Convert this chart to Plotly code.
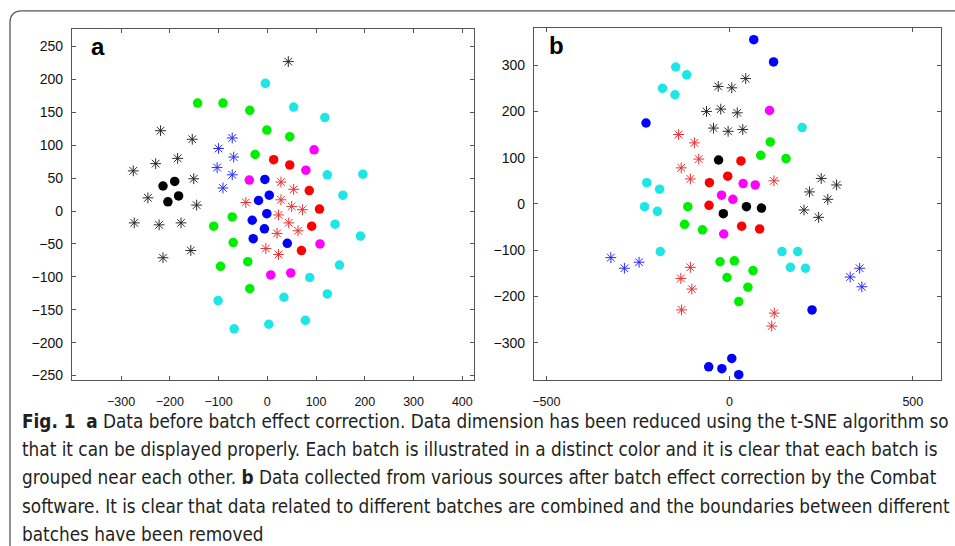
import plotly.graph_objects as go

# ---------------- Panel a (before correction) ----------------
a_black_star_x = [43, -219, -154, -184, -229, -275, -151, -245, -145, -273, -222, -177, -157, -214]
a_black_star_y = [227, 122, 109, 80, 72, 61, 49, 20, 9, -18, -21, -18, -60, -71]
a_black_x = [-214, -190, -182, -204]
a_black_y = [38, 45, 23, 14]
a_blue_star_x = [-72, -100, -69, -103, -72, -91]
a_blue_star_y = [111, 95, 82, 66, 55, 35]
a_green_x = [-143, -91, -36, -1, 46, -25, -110, -72, -70, -96, -40, -36]
a_green_y = [164, 164, 153, 123, 113, 86, -23, -9, -48, -84, -77, -118]
a_cyan_x = [-4, 54, 118, 123, 196, 155, 139, 191, 148, 87, 123, 34, -101, -68, 3, 78]
a_cyan_y = [194, 158, 142, 55, 56, 24, -20, -38, -82, -101, -126, -131, -136, -179, -172, -166]
a_magenta_x = [96, 79, -37, 108, 7, 48]
a_magenta_y = [93, 62, 47, -50, -97, -94]
a_red_x = [13, 46, 86, 107, 91, 70]
a_red_y = [78, 70, 31, 3, -23, -60]
a_blue_x = [-5, -18, 4, -1, -31, -6, -29, 41]
a_blue_y = [48, 16, 24, -4, -14, -27, -42, -49]
a_red_star_x = [28, 54, -44, 28, 50, 72, 23, 44, 63, 20, -3, 23]
a_red_star_y = [44, 33, 13, 17, 7, 2, -6, -18, -30, -34, -57, -66]

# ---------------- Panel b (after Combat correction) ----------------
b_blue_x = [66, 120, -228, 225, -57, -21, 6, 25]
b_blue_y = [355, 307, 175, -229, -352, -356, -334, -369]
b_cyan_x = [-147, -117, -183, -149, 198, -226, -191, -232, -197, -189, 143, 186, 166, 207]
b_cyan_y = [296, 279, 250, 236, 165, 46, 32, -6, -16, -103, -103, -103, -137, -139]
b_green_x = [111, 85, 154, -114, -123, -74, -26, 13, 64, -7, 50, 25]
b_green_y = [134, 105, 98, -6, -44, -56, -125, -123, -144, -159, -180, -211]
b_black_x = [-30, 46, 87, -17]
b_black_y = [95, -6, -9, -21]
b_black_star_x = [44, -31, 6, -63, -24, 21, -44, -4, 36, 250, 292, 218, 268, 203, 243]
b_black_star_y = [271, 254, 251, 200, 205, 197, 164, 157, 161, 55, 41, 26, 10, -13, -29]
b_magenta_x = [109, 37, 70, -22, 9, -16]
b_magenta_y = [202, 44, 41, 19, 10, -65]
b_red_x = [31, -5, -55, -56, 33, 82]
b_red_y = [93, 60, 46, -3, -48, -54]
b_red_star_x = [-139, -96, -84, -132, -107, 121, -107, -133, -103, -131, 122, 115]
b_red_star_y = [150, 132, 97, 78, 54, 50, -137, -161, -184, -229, -236, -264]
b_blue_star_x = [-324, -287, -247, 329, 355, 361]
b_blue_star_y = [-116, -139, -126, -158, -139, -179]

# ticks
a_xticks = [-300, -200, -100, 0, 100, 200, 300, 400]
a_yticks = [-250, -200, -150, -100, -50, 0, 50, 100, 150, 200, 250]
b_xticks = [-500, 0, 500]
b_yticks = [-300, -200, -100, 0, 100, 200, 300]

caption_lines = [
    "<b>Fig. 1</b>  <b>a</b> Data before batch effect correction. Data dimension has been reduced using the t-SNE algorithm so",
    "that it can be displayed properly. Each batch is illustrated in a distinct color and it is clear that each batch is",
    "grouped near each other. <b>b</b> Data collected from various sources after batch effect correction by the Combat",
    "software. It is clear that data related to different batches are combined and the boundaries between different",
    "batches have been removed",
]

W, H = 955, 546
C_BLACK = "#000000"
C_BLUE = "#0000ff"
C_GREEN = "#00ee00"
C_CYAN = "#1ee6e6"
C_MAGENTA = "#ff00ff"
C_RED = "#ff0000"
C_BLUE_STAR = "#2a2aff"
C_RED_STAR = "#e83030"
C_BLACK_STAR = "#2a2a2a"

fig = go.Figure()


def dots(x, y, color, xa, ya):
    fig.add_trace(go.Scatter(x=x, y=y, mode="markers", xaxis=xa, yaxis=ya,
                             marker=dict(symbol="circle", size=9.5, color=color, line=dict(width=0)),
                             showlegend=False, hoverinfo="x+y"))


def stars(x, y, color, xa, ya):
    fig.add_trace(go.Scatter(x=x, y=y, mode="markers", xaxis=xa, yaxis=ya,
                             marker=dict(symbol="asterisk-open", size=9, color=color,
                                         line=dict(width=1, color=color)),
                             showlegend=False, hoverinfo="x+y"))


# panel a
stars(a_black_star_x, a_black_star_y, C_BLACK_STAR, "x", "y")
dots(a_black_x, a_black_y, C_BLACK, "x", "y")
stars(a_blue_star_x, a_blue_star_y, C_BLUE_STAR, "x", "y")
dots(a_green_x, a_green_y, C_GREEN, "x", "y")
dots(a_cyan_x, a_cyan_y, C_CYAN, "x", "y")
dots(a_magenta_x, a_magenta_y, C_MAGENTA, "x", "y")
dots(a_red_x, a_red_y, C_RED, "x", "y")
dots(a_blue_x, a_blue_y, C_BLUE, "x", "y")
stars(a_red_star_x, a_red_star_y, C_RED_STAR, "x", "y")

# panel b
dots(b_blue_x, b_blue_y, C_BLUE, "x2", "y2")
dots(b_cyan_x, b_cyan_y, C_CYAN, "x2", "y2")
dots(b_green_x, b_green_y, C_GREEN, "x2", "y2")
dots(b_black_x, b_black_y, C_BLACK, "x2", "y2")
stars(b_black_star_x, b_black_star_y, C_BLACK_STAR, "x2", "y2")
dots(b_magenta_x, b_magenta_y, C_MAGENTA, "x2", "y2")
dots(b_red_x, b_red_y, C_RED, "x2", "y2")
stars(b_red_star_x, b_red_star_y, C_RED_STAR, "x2", "y2")
stars(b_blue_star_x, b_blue_star_y, C_BLUE_STAR, "x2", "y2")

axis_common = dict(showline=True, linecolor="#555555", linewidth=1, mirror="ticks",
                   ticks="inside", ticklen=4, tickcolor="#555555", tickwidth=1,
                   showgrid=False, zeroline=False, fixedrange=True)
tick_font_x = dict(family="Liberation Sans, Arial, sans-serif", size=12.5, color="#111111")
tick_font_y = dict(family="Liberation Sans, Arial, sans-serif", size=14, color="#111111")


def px_x(p):
    return p / W


def px_y(p):
    return 1 - p / H


fig.update_layout(
    width=W, height=H,
    margin=dict(l=0, r=0, t=0, b=0),
    paper_bgcolor="white", plot_bgcolor="white",
    xaxis=dict(domain=[px_x(70), px_x(473)], range=[-401, 424], tickvals=a_xticks,
               tickfont=tick_font_x, anchor="y", ticklabelstandoff=10, **axis_common),
    yaxis=dict(domain=[px_y(382.3), px_y(29.5)], range=[-257, 276], tickvals=a_yticks,
               tickfont=tick_font_y, anchor="x", ticklabelstandoff=5, **axis_common),
    xaxis2=dict(domain=[px_x(533), px_x(941)], range=[-534, 577], tickvals=b_xticks,
                tickfont=tick_font_x, anchor="y2", ticklabelstandoff=10, **axis_common),
    yaxis2=dict(domain=[px_y(382.3), px_y(28.3)], range=[-381, 380], tickvals=b_yticks,
                tickfont=tick_font_y, anchor="x2", ticklabelstandoff=5, **axis_common),
)

# panel letters
fig.add_annotation(x=px_x(87), y=px_y(47), xref="paper", yref="paper", text="<b>a</b>",
                   showarrow=False, xanchor="left", yanchor="middle",
                   font=dict(family="Liberation Sans, Arial, sans-serif", size=24, color="#000"))
fig.add_annotation(x=px_x(546), y=px_y(46), xref="paper", yref="paper", text="<b>b</b>",
                   showarrow=False, xanchor="left", yanchor="middle",
                   font=dict(family="Liberation Sans, Arial, sans-serif", size=24, color="#000"))

# caption
cap_font = dict(family="Liberation Sans Narrow, Arial Narrow, DejaVu Sans Condensed, sans-serif",
                size=18.8, color="#231f20")
for i, line in enumerate(caption_lines):
    fig.add_annotation(x=px_x(18), y=px_y(424 + i * 28.3), xref="paper", yref="paper",
                       text=line, showarrow=False, xanchor="left", yanchor="middle",
                       align="left", font=cap_font)

# outer frame with rounded top-left corner
r = 12
fig.add_shape(type="path", xref="paper", yref="paper",
              path=(f"M {px_x(8)},{px_y(H + 5)} L {px_x(8)},{px_y(11 + r)} "
                    f"Q {px_x(8)},{px_y(11)} {px_x(8 + r)},{px_y(11)} L {px_x(W + 5)},{px_y(11)}"),
              line=dict(color="#555555", width=1.3))

fig.write_html("out.html", config={"displayModeBar": False},
               post_script="document.body.style.margin='0';document.body.style.overflow='hidden';")
